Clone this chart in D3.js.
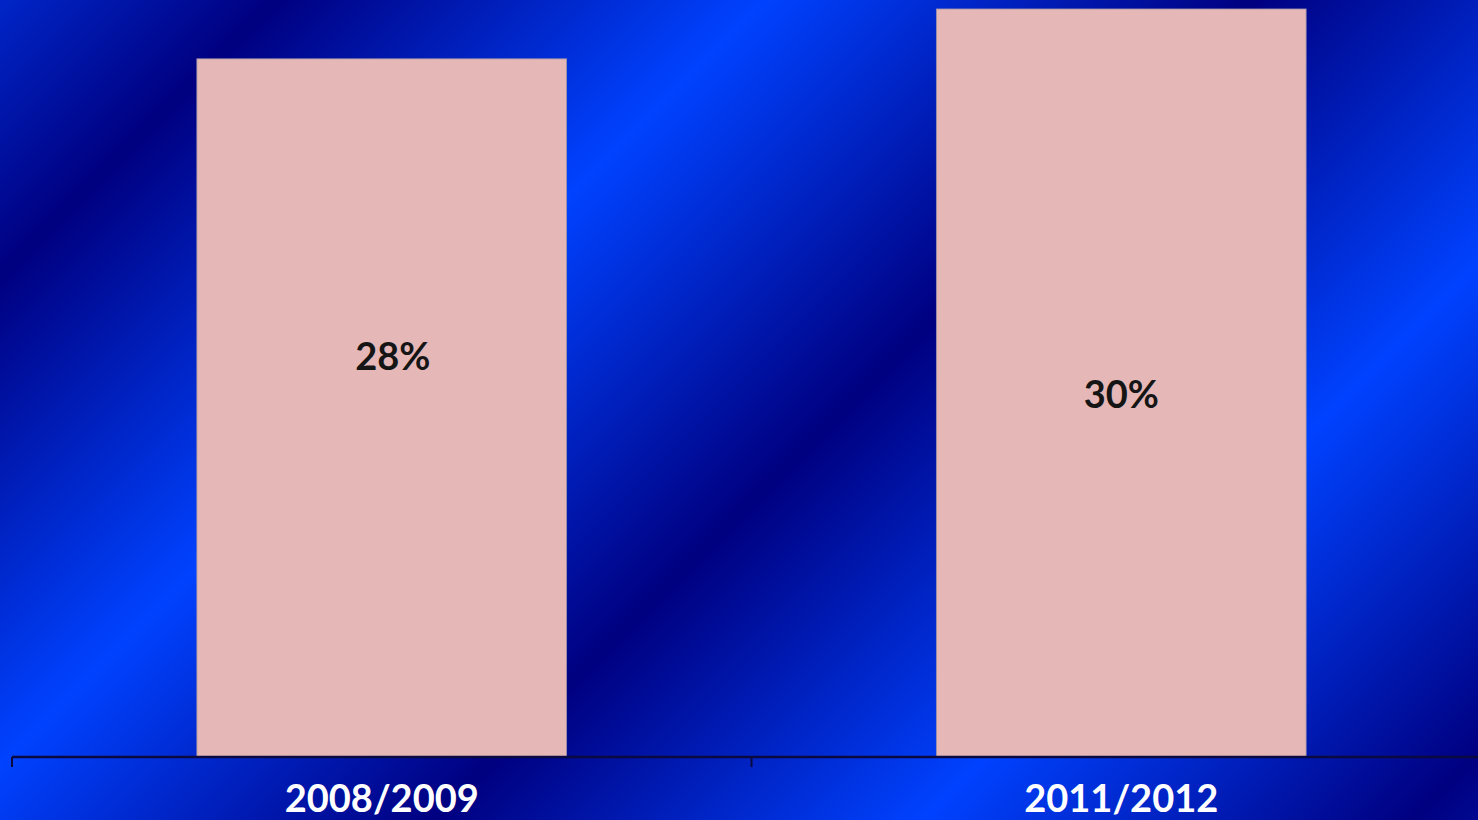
<!DOCTYPE html>
<html>
<head>
<meta charset="utf-8">
<script src="https://cdn.jsdelivr.net/npm/d3@7"></script>
<style>
  html, body { margin: 0; padding: 0; overflow: hidden; background: #0020c0; }
  svg { display: block; }
</style>
</head>
<body>
<svg id="chart" width="1478" height="820"></svg>
<script>
// ---- data ----
const categories = ["2008/2009", "2011/2012"];
const values = [28, 30];
const valueLabels = ["28%", "30%"];

// ---- layout ----
const W = 1478, H = 820;
const svg = d3.select("#chart");

// background: repeating diagonal gradient (navy <-> bright blue)
const defs = svg.append("defs");
const grad = defs.append("linearGradient")
  .attr("id", "bg")
  .attr("gradientUnits", "userSpaceOnUse")
  .attr("spreadMethod", "repeat")
  .attr("x1", 138).attr("y1", 138)
  .attr("x2", 627).attr("y2", 627);
grad.append("stop").attr("offset", 0).attr("stop-color", "#000080");
grad.append("stop").attr("offset", 0.5).attr("stop-color", "#0042ff");
grad.append("stop").attr("offset", 1).attr("stop-color", "#000080");

svg.append("rect").attr("width", W).attr("height", H).attr("fill", "url(#bg)");

const x = d3.scaleBand()
  .domain(categories)
  .range([12, 1491])
  .paddingInner(0.5)
  .paddingOuter(0.25);

const y = d3.scaleLinear()
  .domain([0, 30.36])
  .range([757, 0]);

const data = categories.map((c, i) => ({ cat: c, value: values[i], label: valueLabels[i] }));

// bars
svg.append("g").selectAll("rect")
  .data(data)
  .join("rect")
  .attr("x", d => x(d.cat))
  .attr("y", d => y(d.value))
  .attr("width", x.bandwidth())
  .attr("height", d => y(0) - y(d.value))
  .attr("fill", "#e5b8b7")
  .attr("stroke", "#9a8fa8")
  .attr("stroke-width", 0.8);

// value labels (placement as in the original)
const labelLayout = [{ dx: 11, f: 0.573 }, { dx: 0, f: 0.484 }];
svg.append("g").selectAll("text")
  .data(data)
  .join("text")
  .attr("x", (d, i) => x(d.cat) + x.bandwidth() / 2 + labelLayout[i].dx)
  .attr("y", (d, i) => y(d.value * labelLayout[i].f))
  .attr("dy", "0.35em")
  .attr("text-anchor", "middle")
  .attr("font-family", "Lato, 'Open Sans', sans-serif")
  .attr("font-weight", "bold")
  .attr("font-size", 38)
  .attr("fill", "#151515")
  .text(d => d.label);

// x axis
const axisY = y(0);
const axis = d3.axisBottom(x).tickSize(0).tickPadding(0).tickFormat(d => d);
const gAxis = svg.append("g").attr("transform", `translate(0,${axisY})`).call(axis);
gAxis.select(".domain").remove();
gAxis.append("line")
  .attr("x1", x.range()[0]).attr("x2", x.range()[1])
  .attr("y1", 0).attr("y2", 0)
  .attr("stroke", "#0a0a40").attr("stroke-width", 2.5);
// boundary ticks between categories
const boundaries = d3.range(categories.length + 1).map(i => x.range()[0] + i * x.step());
gAxis.selectAll("line.bt")
  .data(boundaries)
  .join("line")
  .attr("class", "bt")
  .attr("x1", d => d).attr("x2", d => d)
  .attr("y1", 0).attr("y2", 10)
  .attr("stroke", "#0a0a40").attr("stroke-width", 2);
gAxis.selectAll(".tick text")
  .attr("y", 55)
  .attr("dy", 0)
  .attr("font-family", "Lato, 'Open Sans', sans-serif")
  .attr("font-weight", "bold")
  .attr("font-size", 38)
  .attr("fill", "#ffffff");
</script>
</body>
</html>
